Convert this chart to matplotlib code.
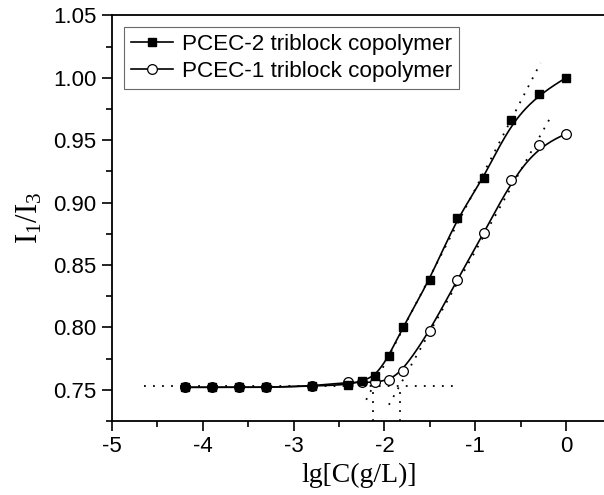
import numpy as np
import matplotlib
matplotlib.use("Agg")
import matplotlib.pyplot as plt
from matplotlib.ticker import MultipleLocator

plt.rcParams['font.family'] = ['Liberation Sans', 'DejaVu Sans']
plt.rcParams['mathtext.fontset'] = 'custom'
plt.rcParams['mathtext.rm'] = 'Liberation Serif'
plt.rcParams['mathtext.it'] = 'Liberation Serif:italic'

# data
lg_c = [-4.2, -3.9, -3.6, -3.3, -2.8, -2.4, -2.25, -2.1, -1.95, -1.8,
        -1.5, -1.2, -0.9, -0.6, -0.3, 0.0]
pcec2 = [0.752, 0.752, 0.752, 0.752, 0.753, 0.754, 0.757, 0.761, 0.777, 0.800,
         0.838, 0.888, 0.920, 0.966, 0.987, 1.000]
pcec1 = [0.752, 0.752, 0.752, 0.752, 0.753, 0.756, 0.756, 0.756, 0.758, 0.765,
         0.797, 0.838, 0.876, 0.918, 0.946, 0.955]
labels = ["PCEC-2 triblock copolymer", "PCEC-1 triblock copolymer"]

# dotted helper lines (baseline + tangents), end points
base_x = [-4.65, -1.2]
base_y = [0.753, 0.753]
tan2_x = [-2.20, -0.28]
tan2_y = [0.742, 1.012]
tan1_x = [-1.95, -0.15]
tan1_y = [0.738, 0.971]
cmc_x = [-2.12, -1.83]   # where tangents cross the baseline


def bspline(x, y, n=600):
    # clamped cubic B-spline with the data points as control points
    # (the "B-Spline" connect style of Origin)
    P = np.column_stack([x, y]).astype(float)
    N = len(P)
    k = 3
    inner = np.arange(1, N - k)
    knots = np.concatenate([[0] * (k + 1), inner, [N - k] * (k + 1)]).astype(float)
    t = np.linspace(0, N - k, n)
    t[-1] -= 1e-9
    # Cox-de Boor
    B = np.zeros((n, len(knots) - 1))
    for i in range(len(knots) - 1):
        B[:, i] = (knots[i] <= t) & (t < knots[i + 1])
    for d in range(1, k + 1):
        Bn = np.zeros((n, len(knots) - 1 - d))
        for i in range(len(knots) - 1 - d):
            a = 0.0
            den1 = knots[i + d] - knots[i]
            den2 = knots[i + d + 1] - knots[i + 1]
            if den1 > 0:
                a = a + (t - knots[i]) / den1 * B[:, i]
            if den2 > 0:
                a = a + (knots[i + d + 1] - t) / den2 * B[:, i + 1]
            Bn[:, i] = a
        B = Bn
    C = B @ P
    return C[:, 0], C[:, 1]


fig = plt.figure(figsize=(6.04, 4.95), dpi=100)
ax = fig.add_axes([0.1854, 0.1495, 0.8193, 0.8192])

dots = (0, (1, 4))
ax.plot(base_x, base_y, color='black', lw=1.3, ls=dots)
ax.plot(tan2_x, tan2_y, color='black', lw=1.3, ls=dots)
ax.plot(tan1_x, tan1_y, color='black', lw=1.3, ls=dots)
for cx in cmc_x:
    ax.plot([cx, cx], [0.725, base_y[0]], color='black', lw=1.3, ls=dots)

xs, ys = bspline(lg_c, pcec1)
ax.plot(xs, ys, color='black', lw=1.2)
ax.plot(lg_c, pcec1, ls='none', marker='o', ms=7, mfc='white', mec='black', mew=0.9)
xs, ys = bspline(lg_c, pcec2)
ax.plot(xs, ys, color='black', lw=1.2)
ax.plot(lg_c, pcec2, ls='none', marker='s', ms=6.3, mfc='black', mec='black')

# legend handles
h2, = ax.plot([], [], color='black', lw=1.2, marker='s', ms=6.3, mfc='black', mec='black')
h1, = ax.plot([], [], color='black', lw=1.2, marker='o', ms=7, mfc='white', mec='black', mew=0.9)
leg = ax.legend([h2, h1], labels, loc='upper left', bbox_to_anchor=(0.024, 0.972),
                borderaxespad=0, fontsize=16.2, frameon=True, fancybox=False,
                handlelength=1.9, handletextpad=0.4, labelspacing=0.3,
                borderpad=0.3)
leg.get_frame().set_edgecolor('#444444')
leg.get_frame().set_linewidth(0.8)

ax.set_xlim(-5, 0.45)
ax.set_ylim(0.725, 1.05)
ax.xaxis.set_major_locator(MultipleLocator(1))
ax.xaxis.set_minor_locator(MultipleLocator(0.5))
ax.yaxis.set_major_locator(MultipleLocator(0.05))
ax.yaxis.set_minor_locator(MultipleLocator(0.025))
ax.xaxis.set_major_formatter(plt.FuncFormatter(lambda v, p: f"{v:.0f}"))
ax.yaxis.set_major_formatter(plt.FuncFormatter(lambda v, p: f"{v:.2f}"))
ax.tick_params(which='major', direction='out', length=7, width=1.2, labelsize=16, pad=4)
ax.tick_params(which='minor', direction='out', length=4, width=1.2)
for s in ax.spines.values():
    s.set_linewidth(1.3)

ax.set_xlabel('lg[C(g/L)]', family='Liberation Serif', fontsize=20, labelpad=4)
ax.set_ylabel(r'$\mathrm{I_1/I_3}$', fontsize=22, labelpad=6)

fig.savefig('out.png', dpi=100)
